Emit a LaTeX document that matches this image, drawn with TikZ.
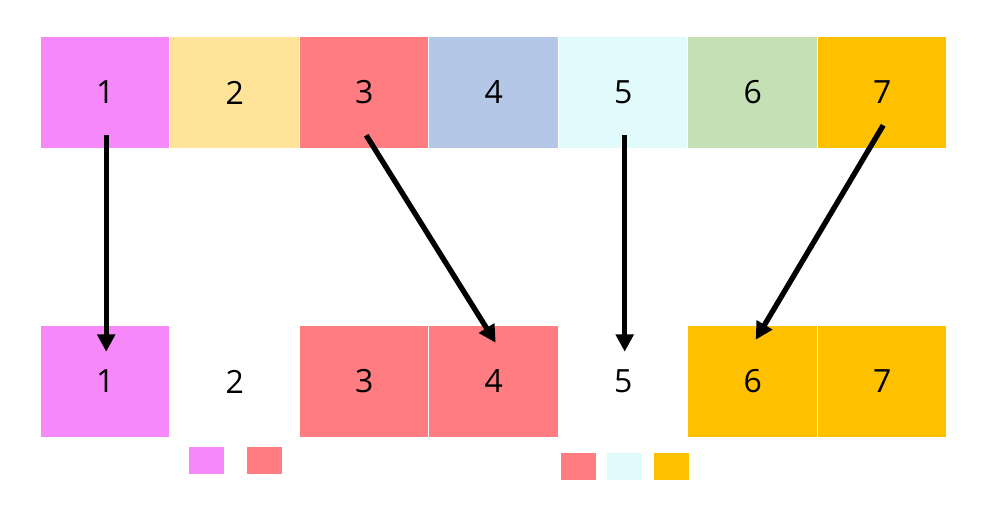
\documentclass[tikz,border=0pt]{standalone}
\usepackage{fontspec}
\setmainfont{Open Sans}
\usetikzlibrary{arrows.meta}
\definecolor{cpink}{HTML}{F788FA}
\definecolor{cyellow}{HTML}{FFE399}
\definecolor{cred}{HTML}{FF7C80}
\definecolor{cblue}{HTML}{B4C7E7}
\definecolor{ccyan}{HTML}{E1FBFD}
\definecolor{cgreen}{HTML}{C5E0B4}
\definecolor{corange}{HTML}{FFC000}

\begin{document}
\begin{tikzpicture}[x=0.75pt,y=0.75pt,
  cell/.style={minimum width=96.4pt,minimum height=83.25pt,inner sep=0pt,font=\fontsize{24}{28}\selectfont},
  key/.style={minimum width=26.25pt,minimum height=20.25pt,inner sep=0pt},
  flow/.style={line width=4pt,-{Triangle[length=13pt,width=13pt]}}]
\useasboundingbox (0,0) rectangle (981,-518);
\foreach \i/\c in {1/cpink,2/cyellow,3/cred,4/cblue,5/ccyan,6/cgreen,7/corange}
  \node[cell,fill=\c] (t\i) at ({105.2+129.5*(\i-1)},-92.5) {\i};
\foreach \i/\c in {1/cpink,2/white,3/cred,4/cred,5/white,6/corange,7/corange}
  \node[cell,fill=\c] (b\i) at ({105.2+129.5*(\i-1)},-381.5) {\i};
\node[key,fill=cpink] (k1) at (206.5,-460.5) {};
\node[key,fill=cred] (k2) at (264.5,-460.5) {};
\node[key,fill=cred] (k3) at (578.5,-466.5) {};
\node[key,fill=ccyan] (k4) at (624.5,-466.5) {};
\node[key,fill=corange] (k5) at (671,-466.5) {};
\draw[flow] ([shift={(1,13)}]t1.south) -- ([shift={(1,-26)}]b1.north);
\draw[flow] ([shift={(2,13)}]t3.south) -- ([shift={(2,-17)}]b4.north);
\draw[flow] ([shift={(1.5,13)}]t5.south) -- ([shift={(1.5,-26)}]b5.north);
\draw[flow] ([shift={(1,23)}]t7.south) -- ([shift={(3,-14)}]b6.north);
\end{tikzpicture}
\end{document}
